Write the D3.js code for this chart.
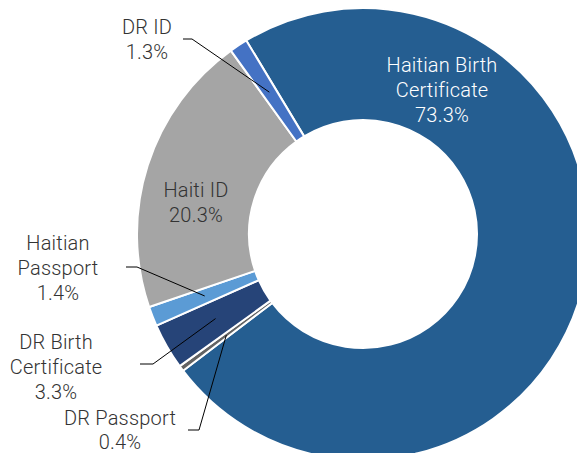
<!DOCTYPE html>
<html>
<head>
<meta charset="utf-8">
<script src="https://cdn.jsdelivr.net/npm/d3@7"></script>
<style>
  body { margin: 0; background: #fff; }
  text { font-family: Roboto, "Liberation Sans", sans-serif; font-weight: 300; font-size: 20px; letter-spacing: 0.2px; fill: #333; }
</style>
</head>
<body>
<div id="chart"></div>
<script>
var categories = ['Haitian Birth Certificate', 'DR Passport', 'DR Birth Certificate', 'Haitian Passport', 'Haiti ID', 'DR ID']
var values = [73.3, 0.4, 3.3, 1.4, 20.3, 1.3]
var labelLines = [
  ['Haitian Birth', 'Certificate'],
  ['DR Passport'],
  ['DR Birth', 'Certificate'],
  ['Haitian', 'Passport'],
  ['Haiti ID'],
  ['DR ID']
]

var colors = ['#255e91', '#636363', '#264478', '#5b9bd5', '#a5a5a5', '#4472c4']

// label placement relative to the chart centre: x of text centre, first baseline; leader = line to slice
var layout = [
  {x: 79, y: -162, leader: false, fill: '#fff'},
  {x: -243, y: 191, leader: true, elbow: [-164, 196], start: -175},
  {x: -307, y: 115, leader: true, elbow: [-210, 130], start: -223},
  {x: -305, y: 16, leader: true, elbow: [-226, 33], start: -237},
  {x: -167, y: -37, leader: false},
  {x: -216, y: -200, leader: true, elbow: [-171, -195], start: -180}
]

var width = 577, height = 453
var cx = 363, cy = 234
var outerR = 226, innerR = 114

var svg = d3.select('#chart').append('svg')
  .attr('width', width)
  .attr('height', height)

var g = svg.append('g').attr('transform', 'translate(' + cx + ',' + cy + ')')

var start = -31.1 * Math.PI / 180
var pie = d3.pie().sort(null).startAngle(start).endAngle(start + 2 * Math.PI)
var arcs = pie(values)

var arc = d3.arc().innerRadius(innerR).outerRadius(outerR)

g.selectAll('path.slice')
  .data(arcs)
  .enter().append('path')
  .attr('class', 'slice')
  .attr('d', arc)
  .attr('fill', function(d, i){ return colors[i] })
  .attr('stroke', '#fff')
  .attr('stroke-width', 2)
  .attr('stroke-linejoin', 'round')

// leader lines end at the slice centroid
arcs.forEach(function(d, i){
  var L = layout[i]
  if (!L.leader) return
  var c = arc.centroid(d)
  g.append('path')
    .attr('d', d3.line()([[L.start, L.elbow[1]], L.elbow, c]))
    .attr('fill', 'none')
    .attr('stroke', '#000')
    .attr('stroke-width', 1)
})

var lineH = 25
arcs.forEach(function(d, i){
  var L = layout[i]
  var lines = labelLines[i].concat([d3.format('.1f')(values[i]) + '%'])
  var t = g.append('text')
    .attr('text-anchor', 'middle')
    .style('fill', L.fill || '#333')
  lines.forEach(function(s, j){
    t.append('tspan')
      .attr('x', L.x)
      .attr('y', L.y + j * (i == 1 ? 24 : lineH))
      .text(s)
  })
})
</script>
</body>
</html>
